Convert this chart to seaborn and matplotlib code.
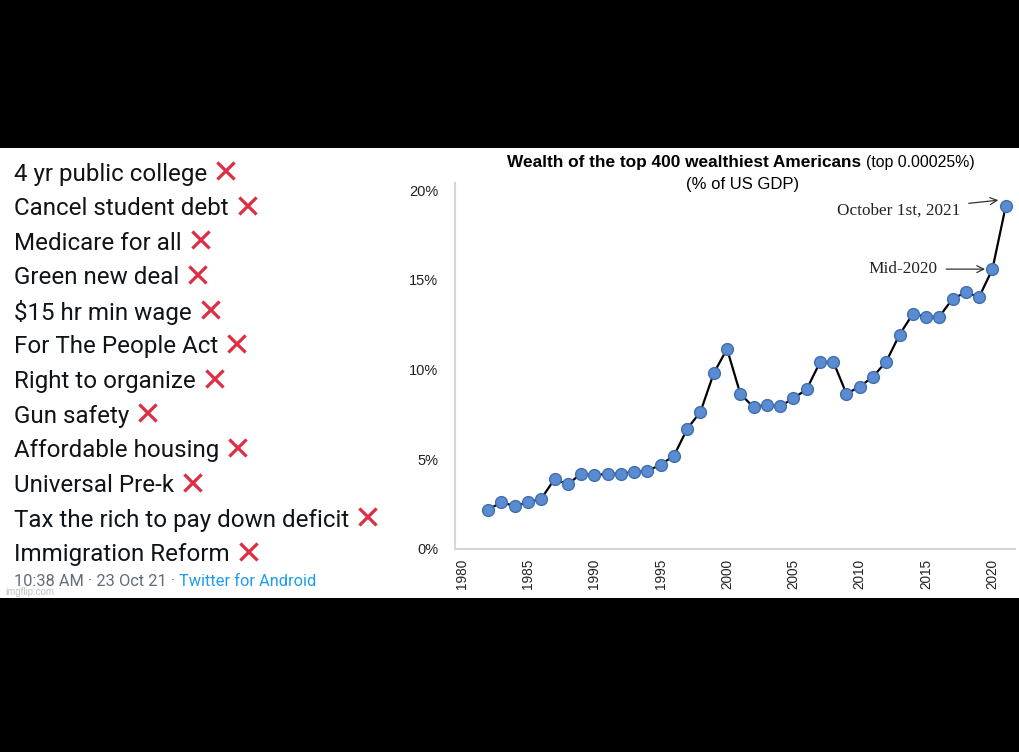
import numpy as np
import pandas as pd
import seaborn as sns
import matplotlib.pyplot as plt
from matplotlib.ticker import PercentFormatter
from matplotlib.patches import Rectangle

# data (% of US GDP)
years = list(range(1982, 2022))
wealth_pct = [2.2, 2.6, 2.4, 2.6, 2.8, 3.9, 3.6, 4.2, 4.1, 4.2,
              4.2, 4.3, 4.35, 4.7, 5.2, 6.7, 7.65, 9.8, 11.15, 8.65,
              7.9, 8.05, 7.95, 8.4, 8.9, 10.4, 10.45, 8.65, 9.05, 9.6,
              10.45, 11.95, 13.1, 12.95, 12.95, 13.95, 14.3, 14.05, 15.6, 19.1]
xticks = list(range(1980, 2021, 5))
yticks = [0, 5, 10, 15, 20]

items = ["4 yr public college", "Cancel student debt", "Medicare for all",
         "Green new deal", "$15 hr min wage", "For The People Act",
         "Right to organize", "Gun safety", "Affordable housing",
         "Universal Pre-k", "Tax the rich to pay down deficit",
         "Immigration Reform"]

W, H = 1020, 752
def fx(x): return x / W
def fy(y): return 1 - y / H

sns.set_style("white")
plt.rcParams['font.family'] = ['Liberation Sans', 'DejaVu Sans']

fig = plt.figure(figsize=(W / 100, H / 100), dpi=100, facecolor="black")
fig.patches.append(Rectangle((0, fy(598)), 1, fy(148) - fy(598),
                             transform=fig.transFigure, facecolor="white",
                             edgecolor="none", zorder=-5))

# ---- tweet text on the left ----
red = "#dd2e44"
fig.canvas.draw()
r = fig.canvas.get_renderer()
y0, step = 174, 34.6
for i, s in enumerate(items):
    yy = y0 + i * step
    t = fig.text(fx(14), fy(yy), s, fontsize=17.4, family=['Roboto', 'DejaVu Sans'],
                 color="#0f1419", va="center", ha="left")
    bb = t.get_window_extent(renderer=r)
    fig.text(bb.x1 / W + fx(5), fy(yy), "\u2715", fontsize=24, fontweight="bold",
             family="DejaVu Sans", color=red, va="center", ha="left")

t1 = fig.text(fx(14), fy(581), "10:38 AM \u00b7 23 Oct 21 \u00b7 ", fontsize=11.8,
              family=['Roboto', 'DejaVu Sans'], color="#5f6e7b", va="center")
bb = t1.get_window_extent(renderer=r)
fig.text(bb.x1 / W, fy(581), "Twitter for Android", fontsize=11.8,
         family=['Roboto', 'DejaVu Sans'], color="#1d9bf0", va="center")
fig.text(fx(5), fy(592), "imgflip.com", fontsize=7, color="#a8a8a8",
         alpha=0.7, va="center")

# ---- chart ----
ax = fig.add_axes([fx(455), fy(549), fx(1015) - fx(455), fy(183) - fy(549)])
ax.set_facecolor("white")
df = pd.DataFrame({"year": years, "wealth": wealth_pct})
sns.lineplot(data=df, x="year", y="wealth", ax=ax, color="black", linewidth=1.6,
             marker="o", markersize=8.5, markerfacecolor="#5b8bd0",
             markeredgecolor="#3f6fae", markeredgewidth=1.0)

ax.set_xlim(1979.5, 2021.7)
ax.set_ylim(0, 20.4)
ax.set_xticks(xticks)
ax.set_yticks(yticks)
ax.set_xticklabels([str(x) for x in xticks], rotation=90, fontsize=9.8, color="#222222")
ax.yaxis.set_major_formatter(PercentFormatter(decimals=0))
ax.tick_params(axis="y", labelsize=10.5, labelcolor="#222222", length=0, pad=12)
ax.tick_params(axis="x", length=0, pad=7)
ax.set_xlabel("")
ax.set_ylabel("")
for side in ["top", "right"]:
    ax.spines[side].set_visible(False)
for side in ["left", "bottom"]:
    ax.spines[side].set_color("#d6d6d6")
    ax.spines[side].set_linewidth(1.5)

# title (bold part + normal part)
fig.text(fx(861), fy(163), "Wealth of the top 400 wealthiest Americans", fontsize=12.4,
         fontweight="bold", ha="right", va="center", color="black")
fig.text(fx(866), fy(163), "(top 0.00025%)", fontsize=11.4, ha="left",
         va="center", color="black")
fig.text(fx(743), fy(184), "(% of US GDP)", fontsize=12, ha="center",
         va="center", color="black")

# annotations
ax.annotate("October 1st, 2021", xy=(years[-1] - 0.45, wealth_pct[-1] + 0.35),
            xytext=(2017.55, 18.85), fontsize=12.4, family="Liberation Serif",
            ha="right", va="center", color="#222222",
            arrowprops=dict(arrowstyle="->", color="#333333", lw=0.9,
                            shrinkA=4, shrinkB=1))
ax.annotate("Mid-2020", xy=(years[-2] - 0.45, wealth_pct[-2] + 0.0),
            xytext=(2015.85, 15.6), fontsize=12.4, family="Liberation Serif",
            ha="right", va="center", color="#222222",
            arrowprops=dict(arrowstyle="->", color="#333333", lw=0.9,
                            shrinkA=4, shrinkB=1))

fig.savefig("out.png", dpi=100, facecolor="black")
